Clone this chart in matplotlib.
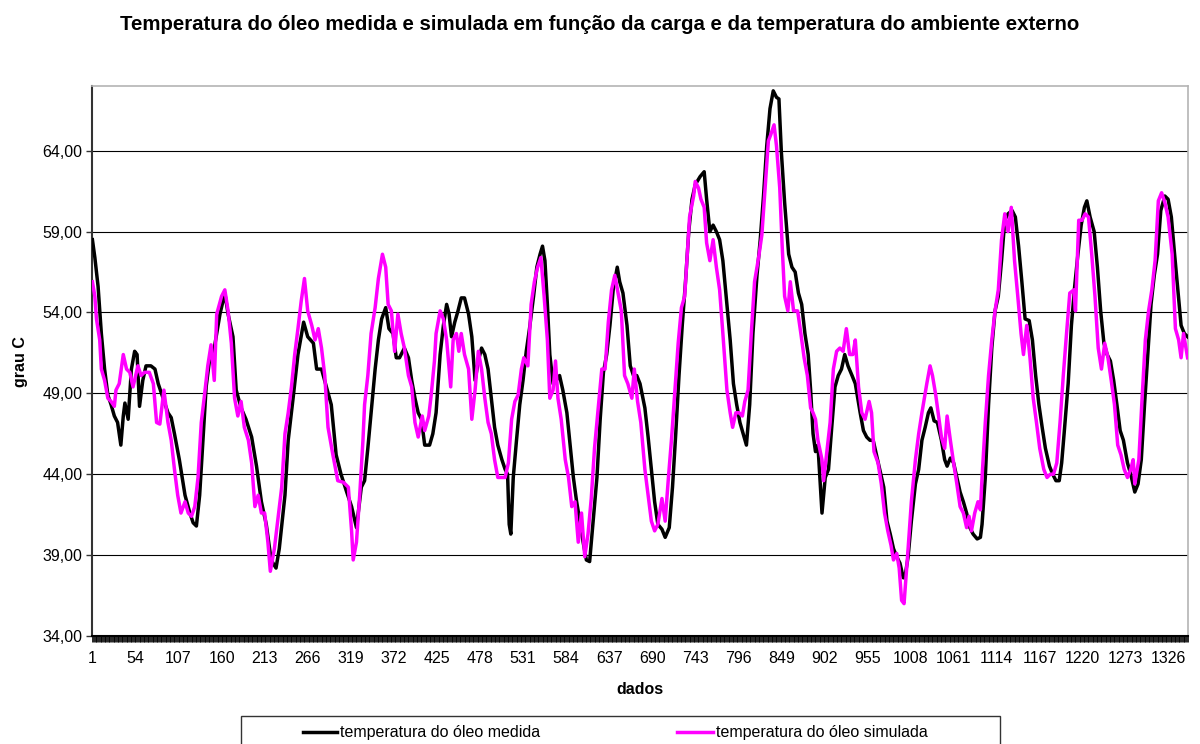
import matplotlib
matplotlib.use("Agg")
import matplotlib.pyplot as plt
import matplotlib.ticker as mticker
from matplotlib.lines import Line2D
from matplotlib.patches import Rectangle
import numpy as np

plt.rcParams["font.family"] = ["Liberation Sans", "DejaVu Sans"]

N_DADOS = 1349
TICK_STEP = 53

# temperatura do oleo medida (indice do dado, grau C)
med_x = [
    1, 4, 8, 12, 16, 20, 24, 28, 32, 36, 39, 41, 45, 49, 53, 56, 59, 63, 67, 73,
    78, 82, 88, 94, 98, 102, 108, 115, 121, 125, 129, 133, 137, 141, 145, 151, 158, 164, 168, 174,
    178, 184, 190, 197, 203, 209, 215, 221, 227, 231, 238, 242, 248, 254, 261, 266, 273, 277, 283, 289,
    295, 301, 307, 314, 320, 326, 332,
    336, 340, 344, 349, 353, 357, 362, 366, 371, 375, 379, 385, 390, 394, 398, 402, 406, 410, 416, 420,
    424, 429, 433, 437, 440, 443, 447, 451, 455, 459, 464, 468, 472, 476, 480, 484, 488, 492, 496, 500,
    505, 509, 512, 514, 516, 519, 523, 527, 531, 535, 539, 544, 548, 552, 555, 558, 561, 564, 568, 572,
    576, 580, 585, 589, 593, 597, 601, 605, 609, 613, 617, 622, 626, 630, 634, 638, 642, 647, 650, 654,
    659, 663, 667, 671, 675,
    681, 685, 689, 693, 697, 702, 706, 711, 715, 719, 723, 727, 731, 735, 739, 743, 749, 754, 757, 761,
    765, 769, 773, 777, 782, 786, 790, 794, 798, 802, 806, 810, 814, 819, 823, 827, 831, 835, 839, 843,
    846, 849, 853, 858, 862, 866, 870, 874, 878, 882, 885, 888, 891, 894, 899, 903, 907, 911, 915, 919,
    923, 927, 931, 936, 940, 946, 950, 954, 958, 962, 966, 970, 975, 979, 983, 987, 991, 995, 999,
    1001, 1005, 1009, 1014, 1018, 1022, 1026, 1030, 1033, 1037, 1041, 1046, 1050, 1053, 1057, 1061, 1065, 1069, 1073, 1077,
    1081, 1085, 1090, 1094, 1096, 1100, 1104, 1108, 1112, 1116, 1120, 1124, 1128, 1133, 1137, 1141, 1145, 1149, 1154, 1158,
    1162, 1166, 1170, 1174, 1179, 1183, 1187, 1191, 1194, 1197, 1202, 1206, 1210, 1214, 1218, 1222, 1225, 1229, 1234, 1238,
    1242, 1246, 1250, 1254, 1258, 1262, 1266, 1270, 1275, 1279, 1284, 1288, 1292, 1296, 1300, 1304, 1308, 1312, 1316, 1321,
    1325, 1329, 1333, 1337, 1341, 1345, 1349,
]
med_y = [
    58.5, 57.4, 55.6, 52.7, 50.5, 48.9, 48.3, 47.6, 47.2, 45.8, 47.6, 48.4, 47.4, 50.5, 51.6, 51.4, 48.2, 49.8, 50.7, 50.7,
    50.5, 49.6, 48.7, 47.8, 47.5, 46.5, 44.9, 42.7, 41.6, 41.0, 40.8, 42.7, 46.1, 49.4, 51.0, 51.8, 53.9, 55.2, 53.9, 52.5,
    49.2, 48.1, 47.4, 46.3, 44.5, 42.3, 40.9, 38.7, 38.2, 39.4, 42.7, 46.1, 48.7, 51.4, 53.4, 52.5, 52.1, 50.5, 50.5, 49.4,
    48.3, 45.2, 44.0, 42.9, 42.0, 40.7, 43.2,
    43.6, 45.6, 47.8, 50.5, 52.3, 53.6, 54.3, 53.0, 52.7, 51.2, 51.2, 51.8, 51.2, 49.8, 48.7, 47.8, 47.4, 45.8, 45.8, 46.5,
    47.8, 51.4, 53.2, 54.5, 53.9, 52.5, 53.4, 54.1, 54.9, 54.9, 53.9, 52.5, 49.8, 51.0, 51.8, 51.4, 50.5, 48.7, 46.9, 45.8,
    44.9, 44.3, 44.0, 40.9, 40.3, 43.8, 46.1, 48.3, 49.8, 51.6, 53.0, 55.0, 56.8, 57.6, 58.1, 57.2, 54.5, 51.4, 49.6, 49.8,
    50.1, 49.2, 47.8, 45.8, 43.8, 42.3, 41.1, 39.8, 38.7, 38.6, 40.9, 43.8, 47.4, 50.3, 51.4, 53.2, 55.4, 56.8, 55.9, 55.2,
    53.2, 50.7, 50.1, 50.1, 49.6,
    48.1, 46.3, 44.3, 42.3, 40.9, 40.6, 40.1, 40.7, 43.2, 46.5, 50.1, 53.2, 55.9, 59.0, 61.0, 61.9, 62.4, 62.7, 61.0, 59.0,
    59.4, 59.0, 58.5, 57.2, 54.5, 52.3, 49.6, 48.3, 47.2, 46.5, 45.8, 48.3, 52.7, 56.3, 58.5, 61.2, 64.3, 66.6, 67.7, 67.3,
    67.2, 63.9, 60.8, 57.6, 56.8, 56.5, 55.2, 54.5, 52.7, 51.4, 49.2, 46.5, 45.4, 45.8, 41.6, 43.8, 44.3, 46.9, 49.4, 50.1,
    50.5, 51.4, 50.7, 50.1, 49.6, 47.8, 46.7, 46.3, 46.1, 46.1, 45.2, 44.3, 43.2, 41.1, 40.3, 39.4, 38.9, 38.5, 37.6,
    37.6, 38.9, 41.1, 43.4, 44.3, 46.1, 46.9, 47.8, 48.1, 47.3, 47.2, 46.1, 44.9, 44.5, 45.0, 44.7, 43.8, 42.9, 42.3, 41.6,
    40.7, 40.3, 40.0, 40.1, 40.9, 43.8, 48.3, 51.8, 54.1, 55.0, 57.2, 59.7, 60.1, 60.3, 59.9, 58.1, 55.9, 53.6, 53.5, 52.3,
    50.1, 48.3, 46.9, 45.6, 44.5, 44.0, 43.6, 43.6, 44.7, 46.5, 49.6, 53.2, 55.6, 57.6, 59.4, 60.5, 60.9, 59.9, 59.0, 56.8,
    54.1, 52.1, 51.4, 51.0, 49.8, 48.3, 46.7, 46.1, 44.7, 44.0, 42.9, 43.4, 44.9, 48.3, 51.4, 54.5, 56.3, 57.6, 60.3, 61.2,
    61.0, 59.9, 57.6, 55.4, 53.2, 52.7, 52.5,
]

# temperatura do oleo simulada (indice do dado, grau C)
sim_x = [
    1, 4, 6, 10, 12, 16, 20, 24, 28, 30, 34, 39, 43, 47, 51, 57, 61, 65, 71, 76,
    80, 84, 89, 94, 98, 102, 106, 110, 115, 119, 123, 127, 131, 135, 139, 143, 147, 151, 154, 160,
    164, 168, 172, 176, 180, 184, 188, 193, 197, 201, 205, 209, 213, 217, 220, 225, 229, 234, 238, 242,
    246, 250, 254, 258, 262, 266, 271, 275, 279, 283, 287, 291, 297, 303, 310, 316, 320, 322, 326, 330,
    334,
    336, 340, 344, 349, 353, 358, 362, 365, 369, 373, 377, 381, 385, 390, 394, 398, 402, 407, 410, 415,
    418, 422, 424, 429, 433, 437, 442, 445, 449, 452, 455, 459, 464, 468, 472, 476, 480, 484, 488, 492,
    496, 500, 505, 509, 513, 517, 521, 525, 529, 532, 537, 541, 545, 549, 553, 557, 561, 564, 568, 571,
    574, 578, 583, 587, 591, 595, 599, 603, 607, 611, 615, 619, 624, 628, 632, 636, 640, 644, 648, 652,
    656, 660, 665, 668, 672, 676,
    681, 685, 689, 693, 697, 702, 706, 710, 714, 718, 722, 726, 730, 734, 736, 741, 743, 747, 750, 754,
    757, 761, 765, 769, 773, 777, 782, 786, 789, 793, 797, 801, 804, 808, 812, 816, 821, 825, 829, 833,
    836, 840, 843, 847, 850, 853, 857, 860, 864, 869, 873, 877, 881, 885, 888, 891, 894, 899, 901, 905,
    909, 913, 917, 921, 925, 929, 933, 937, 940, 944, 948, 952, 957, 960, 963, 968, 972, 976, 980, 984,
    987, 991, 994, 997, 1000,
    1005, 1009, 1014, 1018, 1022, 1025, 1028, 1032, 1035, 1039, 1042, 1046, 1050, 1053, 1057, 1061, 1065, 1069, 1073, 1077,
    1080, 1083, 1087, 1091, 1094, 1096, 1100, 1104, 1108, 1112, 1116, 1120, 1124, 1128, 1132, 1136, 1140, 1144, 1147, 1151,
    1155, 1159, 1163, 1167, 1172, 1176, 1180, 1184, 1188, 1192, 1196, 1200, 1204, 1209, 1211, 1215, 1219, 1223, 1227, 1231,
    1235, 1239, 1243, 1247, 1251, 1255, 1259, 1263, 1267, 1271, 1275, 1279, 1282, 1284, 1289, 1293, 1297, 1301, 1305, 1309,
    1313, 1317, 1321, 1325, 1330, 1334, 1338, 1341, 1344, 1349,
]
sim_y = [
    55.9, 55.0, 53.6, 52.3, 50.5, 49.8, 48.7, 48.5, 48.2, 49.2, 49.6, 51.4, 50.5, 50.3, 49.4, 50.7, 50.1, 50.3, 50.3, 49.6,
    47.2, 47.1, 49.2, 47.2, 46.1, 44.3, 42.7, 41.6, 42.3, 41.6, 41.4, 42.0, 43.8, 47.2, 48.9, 50.7, 52.0, 49.8, 53.9, 55.0,
    55.4, 54.1, 52.1, 48.7, 47.6, 48.5, 46.9, 46.1, 44.7, 42.0, 42.7, 41.6, 41.6, 39.8, 38.0, 39.4, 41.1, 43.2, 46.5, 47.8,
    49.4, 51.4, 53.0, 54.7, 56.1, 54.1, 53.2, 52.3, 53.0, 51.8, 50.1, 46.9, 45.2, 43.6, 43.5, 43.2, 40.5, 38.7, 39.8, 42.7,
    46.1,
    48.3, 50.1, 52.7, 54.3, 56.1, 57.6, 56.8, 54.5, 54.1, 51.6, 53.9, 52.7, 51.8, 50.1, 49.4, 47.2, 46.3, 47.6, 46.7, 47.6,
    48.9, 51.0, 52.7, 54.1, 53.6, 52.3, 49.4, 52.3, 52.7, 51.6, 52.7, 51.4, 50.5, 47.4, 49.2, 51.6, 50.5, 48.7, 47.2, 46.5,
    44.9, 43.8, 43.8, 43.8, 44.7, 47.4, 48.5, 48.9, 50.5, 51.2, 50.7, 54.5, 55.9, 56.8, 57.4, 55.0, 52.3, 48.7, 49.2, 51.0,
    48.7, 47.4, 44.9, 43.8, 42.0, 42.3, 39.8, 41.6, 38.9, 40.3, 42.5, 45.6, 48.3, 50.5, 50.5, 53.4, 55.4, 56.3, 55.2, 54.1,
    50.1, 49.6, 48.7, 50.5, 48.5, 47.2,
    44.3, 42.7, 41.1, 40.5, 40.9, 42.5, 41.1, 43.8, 46.3, 49.2, 52.1, 54.3, 55.0, 58.3, 59.9, 61.2, 62.1, 61.7, 61.0, 60.5,
    58.3, 57.2, 58.5, 56.8, 55.4, 52.7, 49.2, 47.8, 46.9, 47.8, 47.8, 47.6, 48.5, 49.2, 52.7, 55.9, 57.4, 58.8, 61.7, 64.6,
    65.0, 65.6, 64.3, 61.7, 58.1, 55.0, 54.1, 55.9, 54.1, 54.1, 52.7, 51.2, 50.1, 48.1, 47.8, 47.4, 46.1, 44.9, 43.6, 45.4,
    47.2, 50.5, 51.6, 51.8, 51.6, 53.0, 51.4, 51.4, 52.3, 49.4, 47.8, 47.4, 48.5, 47.8, 45.4, 44.7, 43.4, 41.6, 40.5, 39.6,
    38.7, 39.1, 38.2, 36.2, 36.0,
    39.4, 42.3, 44.9, 46.5, 47.8, 48.7, 49.6, 50.7, 50.1, 48.9, 47.8, 46.3, 45.6, 47.6, 46.1, 44.7, 43.4, 42.0, 41.6, 40.7,
    41.4, 40.5, 41.6, 42.3, 41.8, 43.8, 47.2, 50.1, 52.3, 54.1, 55.4, 58.5, 60.1, 59.0, 60.5, 57.2, 55.0, 52.7, 51.4, 53.2,
    51.2, 48.7, 47.2, 45.6, 44.3, 43.8, 44.0, 44.0, 44.7, 47.2, 50.1, 52.7, 55.2, 55.4, 54.1, 59.7, 59.7, 60.1, 59.9, 57.6,
    55.0, 51.8, 50.5, 52.1, 51.2, 49.8, 48.3, 45.8, 45.2, 44.3, 43.8, 44.3, 44.9, 43.4, 44.9, 48.7, 52.3, 54.1, 55.4, 57.2,
    60.9, 61.4, 60.8, 59.9, 57.6, 53.0, 52.3, 51.2, 52.7, 51.2,
]

y_min, y_max, y_step = 34, 68, 5

W, H = 1200, 744
fig = plt.figure(figsize=(W / 100, H / 100), dpi=100)
fig.patch.set_facecolor("white")
ax = fig.add_axes([92 / W, 108 / H, 1096 / W, 550 / H])

ax.plot(med_x, med_y, color="#000000", linewidth=2.5, solid_joinstyle="round",
        label="temperatura do óleo medida", zorder=3)
ax.plot(sim_x, sim_y, color="#FF00FF", linewidth=2.5, solid_joinstyle="round",
        label="temperatura do óleo simulada", zorder=4)

ax.set_xlim(0.5, N_DADOS + 0.5)
ax.set_ylim(y_min, y_max)

ax.set_yticks(np.arange(y_min, 65, y_step))
ax.yaxis.set_major_formatter(mticker.FuncFormatter(lambda v, p: f"{v:.2f}".replace(".", ",")))
ax.yaxis.grid(True, color="#000000", linewidth=0.8)
ax.set_axisbelow(True)

ax.set_xticks(np.arange(1, N_DADOS + 1, TICK_STEP))
ax.set_xticks(np.arange(1, N_DADOS + 1), minor=True)
ax.tick_params(axis="x", which="both", direction="out", length=4, width=0.6,
               color="#000000", labelsize=11.5, pad=7)
ax.tick_params(axis="y", which="major", direction="out", length=4, width=1,
               color="#333333", labelsize=11.5, pad=3)

for side in ("top", "right"):
    ax.spines[side].set_color("#b4b4b4")
    ax.spines[side].set_linewidth(1.2)
ax.spines["left"].set_color("#333333")
ax.spines["left"].set_linewidth(1.5)
ax.spines["bottom"].set_color("#000000")
ax.spines["bottom"].set_linewidth(1.5)

fig.text(0.5, 1 - 30 / H,
         "Temperatura do óleo medida e simulada em função da carga e da temperatura do ambiente externo",
         ha="center", va="baseline", fontsize=14.7, fontweight="bold")
fig.text(20 / W, 1 - 362 / H, "grau C", rotation=90, ha="center", va="center",
         fontsize=11.5, fontweight="bold")
fig.text(640 / W, 1 - 689 / H, "dados", ha="center", va="center",
         fontsize=11.5, fontweight="bold")

# legenda (caixa cortada na borda inferior, como no original)
fig.add_artist(Rectangle((241 / W, -20 / H), 759 / W, (744 - 716 + 20) / H,
                         transform=fig.transFigure, facecolor="white",
                         edgecolor="#333333", linewidth=1.0))
ly = 1 - 732 / H
for x0, x1, color, text in [(303, 337, "#000000", "temperatura do óleo medida"),
                            (677, 713, "#FF00FF", "temperatura do óleo simulada")]:
    fig.add_artist(Line2D([x0 / W, x1 / W], [ly, ly], transform=fig.transFigure,
                          color=color, linewidth=2.5))
    fig.text((x1 + 3) / W, ly, text, ha="left", va="center", fontsize=11.5)

fig.savefig("out.png", dpi=100)
plt.close(fig)
